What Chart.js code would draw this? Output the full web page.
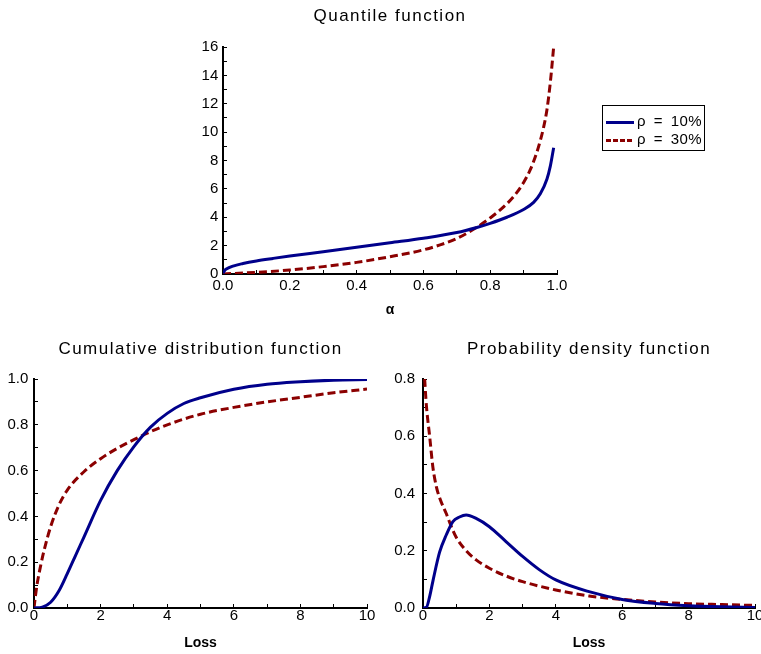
<!DOCTYPE html>
<html>
<head>
<meta charset="utf-8">
<script src="https://cdn.jsdelivr.net/npm/chart.js@4.4.1/dist/chart.umd.min.js"></script>
<style>
  body { margin: 0; background: #fff; }
  .panel { position: absolute; }
  #legend {
    position: absolute; left: 602px; top: 105px; width: 103px; height: 46px;
    border: 1px solid #000; box-sizing: border-box;
    font: 15px "Liberation Sans", Arial, sans-serif; color: #000;
  }
  #legend .row { position: absolute; left: 3px; height: 18px; line-height: 18px; white-space: nowrap; letter-spacing: 0.5px; word-spacing: 3px; }
  #legend .swatch { display: inline-block; width: 28px; height: 3px; vertical-align: middle; margin-right: 3px; }
</style>
</head>
<body>
<div class="panel" style="left:0;top:0;width:761px;height:325px"><canvas id="quantile"></canvas></div>
<div class="panel" style="left:0;top:325px;width:380px;height:329px"><canvas id="cdf"></canvas></div>
<div class="panel" style="left:380px;top:325px;width:381px;height:329px"><canvas id="pdf"></canvas></div>
<div id="legend">
  <div class="row" style="top:6px"><span class="swatch" style="background:#00008b"></span>ρ = 10%</div>
  <div class="row" style="top:24px"><span class="swatch" style="background:repeating-linear-gradient(90deg,#8b0000 0 5px,transparent 5px 7px)"></span>ρ = 30%</div>
</div>
<script>
// quantile function
const alphaBlue = [0, 0.005, 0.01, 0.03, 0.06, 0.1, 0.15, 0.2, 0.3, 0.4, 0.5, 0.6, 0.7, 0.76, 0.8, 0.85, 0.9, 0.93, 0.95, 0.97, 0.98, 0.99];
const quantileBlue = [0.05, 0.25, 0.35, 0.56, 0.74, 0.92, 1.1, 1.27, 1.57, 1.88, 2.2, 2.52, 2.92, 3.28, 3.57, 4.0, 4.55, 5.05, 5.65, 6.7, 7.6, 8.9];
const alphaRed = [0, 0.1, 0.2, 0.3, 0.4, 0.5, 0.6, 0.65, 0.7, 0.75, 0.8, 0.85, 0.88, 0.9, 0.92, 0.94, 0.95, 0.96, 0.97, 0.98, 0.99];
const quantileRed = [0, 0.12, 0.28, 0.52, 0.82, 1.22, 1.7, 2.05, 2.5, 3.15, 3.95, 4.95, 5.75, 6.45, 7.35, 8.6, 9.4, 10.35, 11.6, 13.5, 16.0];

// cumulative distribution function
const lossCdfBlue = [0, 0.25, 0.5, 0.75, 1, 1.25, 1.5, 2, 2.5, 3, 3.5, 4, 4.5, 5, 6, 7, 8, 9, 10];
const cdfBlue = [0, 0.004, 0.025, 0.075, 0.15, 0.23, 0.31, 0.47, 0.6, 0.705, 0.79, 0.85, 0.893, 0.918, 0.955, 0.977, 0.988, 0.995, 0.998];
const lossCdfRed = [0, 0.05, 0.1, 0.2, 0.3, 0.5, 0.75, 1, 1.5, 2, 2.5, 3, 3.5, 4, 5, 6, 7, 8, 9, 10];
const cdfRed = [0, 0.06, 0.11, 0.185, 0.25, 0.355, 0.45, 0.515, 0.595, 0.652, 0.697, 0.735, 0.77, 0.8, 0.846, 0.876, 0.9, 0.92, 0.94, 0.956];

// probability density function
const lossPdfBlue = [0, 0.1, 0.2, 0.3, 0.5, 0.7, 0.9, 1.1, 1.3, 1.6, 2, 2.5, 3, 3.5, 4, 5, 6, 7, 8, 9, 10];
const pdfBlue = [0, 0.002, 0.04, 0.095, 0.195, 0.255, 0.302, 0.318, 0.325, 0.313, 0.284, 0.232, 0.18, 0.134, 0.098, 0.057, 0.03, 0.016, 0.008, 0.004, 0.002];
const lossPdfRed = [0.05, 0.1, 0.2, 0.3, 0.4, 0.5, 0.7, 0.85, 1, 1.3, 1.6, 2, 2.5, 3, 4, 5, 6, 7, 8, 9, 10];
const pdfRed = [0.8, 0.71, 0.6, 0.49, 0.425, 0.385, 0.33, 0.285, 0.247, 0.2, 0.168, 0.139, 0.112, 0.092, 0.063, 0.042, 0.03, 0.021, 0.015, 0.012, 0.009];

const seriesNames = ['ρ = 10%', 'ρ = 30%'];
const blue = '#00008b';
const red = '#8b0000';

Chart.defaults.font.family = '"Liberation Sans", Arial, sans-serif';
Chart.defaults.font.size = 15;
Chart.defaults.color = '#000';

function points(xs, ys) {
  return xs.map((x, i) => ({ x: x, y: ys[i] }));
}

function lines(xb, yb, xr, yr) {
  return [
    { label: seriesNames[0], data: points(xb, yb), borderColor: blue, borderWidth: 3, pointRadius: 0, cubicInterpolationMode: 'monotone' },
    { label: seriesNames[1], data: points(xr, yr), borderColor: red, borderWidth: 3, borderDash: [8, 4], pointRadius: 0, cubicInterpolationMode: 'monotone' }
  ];
}

// linear axis with inward ticks, label on every other tick
function axis(o) {
  return {
    type: 'linear',
    min: o.min,
    max: o.max,
    afterFit: s => {
      if (s.isHorizontal()) s.height = o.size; else s.width = o.size;
      s.paddingLeft = s.paddingRight = s.paddingTop = s.paddingBottom = 0;
    },
    ticks: {
      stepSize: o.step,
      padding: o.pad,
      autoSkip: false,
      maxRotation: 0,
      callback: (v, i) => (i % 2 === 0 ? v.toFixed(o.dec) : '')
    },
    grid: { drawOnChartArea: false, tickLength: -4, tickColor: '#000', tickWidth: 1 },
    border: { color: '#000', width: 2 },
    title: o.title
      ? { display: true, text: o.title, font: { size: 14, weight: 'bold' }, padding: { top: 0, bottom: o.tpad } }
      : { display: false }
  };
}

// wider letter spacing for the chart titles only
const spacedTitle = {
  id: 'spacedTitle',
  beforeDraw(chart) {
    const tb = chart.titleBlock;
    if (tb && !tb._spaced) {
      const draw = tb.draw;
      tb.draw = function () {
        const c = this.ctx;
        c.save();
        c.letterSpacing = '1.5px';
        draw.apply(this, arguments);
        c.restore();
      };
      tb._spaced = true;
    }
  }
};

function makeChart(id, datasets, x, y, title, pad) {
  return new Chart(document.getElementById(id), {
    type: 'line',
    data: { datasets: datasets },
    options: {
      responsive: true,
      maintainAspectRatio: false,
      animation: false,
      layout: { padding: { left: 0, right: pad.right, top: 0, bottom: 0 } },
      scales: { x: x, y: y },
      plugins: {
        legend: { display: false },
        tooltip: { enabled: false },
        title: {
          display: true,
          text: title,
          fullSize: false,
          font: { size: 17, weight: 'normal' },
          padding: { top: pad.ttop, bottom: pad.tbottom }
        }
      }
    },
    plugins: [spacedTitle]
  });
}

makeChart('quantile',
  lines(alphaBlue, quantileBlue, alphaRed, quantileRed),
  axis({ min: 0, max: 1, step: 0.1, dec: 1, size: 51, pad: 7, title: 'α', tpad: 6.6 }),
  axis({ min: 0, max: 16, step: 1, dec: 0, size: 223, pad: 8.7 }),
  'Quantile function',
  { right: 204, ttop: 6, tbottom: 20.6 });

makeChart('cdf',
  lines(lossCdfBlue, cdfBlue, lossCdfRed, cdfRed),
  axis({ min: 0, max: 10, step: 1, dec: 0, size: 46, pad: 2.5, title: 'Loss', tpad: 2.6 }),
  axis({ min: 0, max: 1, step: 0.1, dec: 1, size: 34, pad: 9.7 }),
  'Cumulative distribution function',
  { right: 13, ttop: 13.8, tbottom: 19.8 });

makeChart('pdf',
  lines(lossPdfBlue, pdfBlue, lossPdfRed, pdfRed),
  axis({ min: 0, max: 10, step: 1, dec: 0, size: 46, pad: 2.5, title: 'Loss', tpad: 2.6 }),
  axis({ min: 0, max: 0.8, step: 0.1, dec: 1, size: 43, pad: 12 }),
  'Probability density function',
  { right: 6, ttop: 13.8, tbottom: 19.8 });
</script>
</body>
</html>
